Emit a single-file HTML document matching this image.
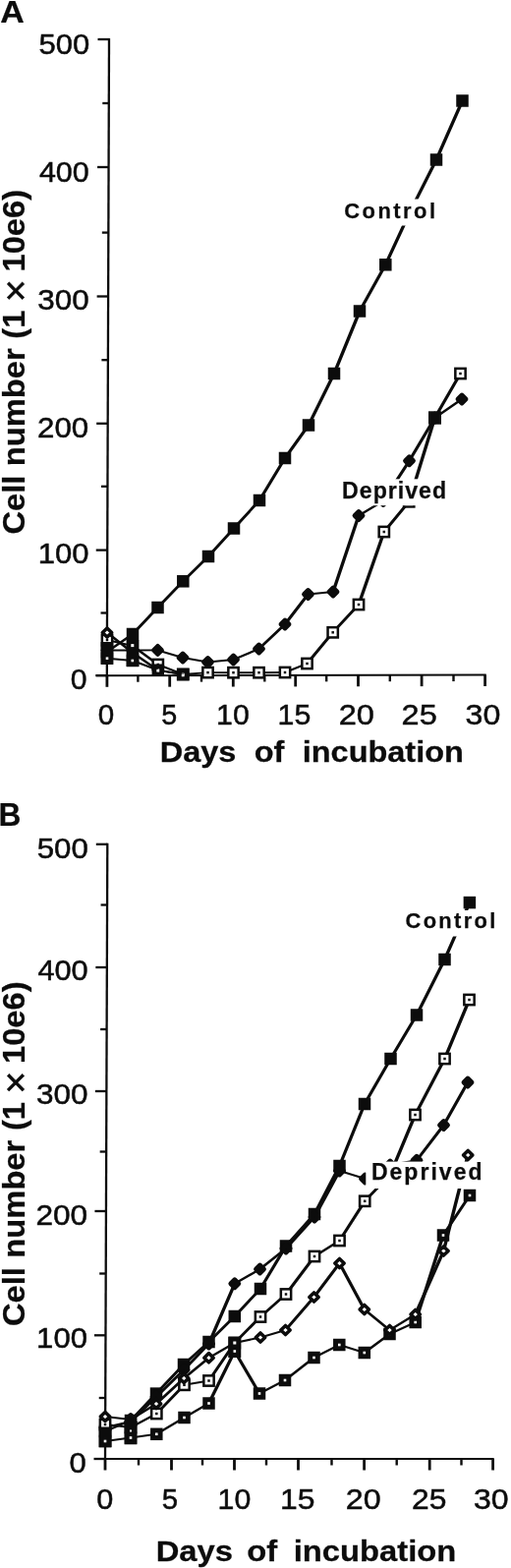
<!DOCTYPE html>
<html lang="en"><head><meta charset="utf-8"><title>Cell number vs days of incubation</title>
<style>html,body{margin:0;padding:0;background:#fff}svg{display:block}text{white-space:pre}</style></head>
<body><svg width="520" height="1595" viewBox="0 0 520 1595">
<rect width="520" height="1595" fill="#fff"/>
<line x1="111" y1="39" x2="108.8" y2="688.3" stroke="#0c0c0c" stroke-width="2.3"/><line x1="97.8" y1="687.3" x2="494.70000000000005" y2="686.5" stroke="#0c0c0c" stroke-width="2.1"/><line x1="99.50" y1="40" x2="111.00" y2="40" stroke="#0c0c0c" stroke-width="2.3"/><line x1="104.28" y1="105" x2="110.78" y2="105" stroke="#0c0c0c" stroke-width="2.3"/><line x1="99.06" y1="170" x2="110.56" y2="170" stroke="#0c0c0c" stroke-width="2.3"/><line x1="103.83" y1="236.6" x2="110.33" y2="236.6" stroke="#0c0c0c" stroke-width="2.3"/><line x1="98.61" y1="301.5" x2="110.11" y2="301.5" stroke="#0c0c0c" stroke-width="2.3"/><line x1="103.39" y1="366.2" x2="109.89" y2="366.2" stroke="#0c0c0c" stroke-width="2.3"/><line x1="98.17" y1="430.8" x2="109.67" y2="430.8" stroke="#0c0c0c" stroke-width="2.3"/><line x1="102.95" y1="494.8" x2="109.45" y2="494.8" stroke="#0c0c0c" stroke-width="2.3"/><line x1="97.73" y1="559.6" x2="109.23" y2="559.6" stroke="#0c0c0c" stroke-width="2.3"/><line x1="102.52" y1="623.5" x2="109.02" y2="623.5" stroke="#0c0c0c" stroke-width="2.3"/><line x1="97.30" y1="687.1" x2="108.80" y2="687.1" stroke="#0c0c0c" stroke-width="2.3"/><line x1="108.9" y1="687.30" x2="108.9" y2="698.80" stroke="#0c0c0c" stroke-width="2.8"/><line x1="140.4" y1="687.23" x2="140.4" y2="693.73" stroke="#0c0c0c" stroke-width="2.4"/><line x1="172.7" y1="687.17" x2="172.7" y2="698.67" stroke="#0c0c0c" stroke-width="2.8"/><line x1="205" y1="687.10" x2="205" y2="693.60" stroke="#0c0c0c" stroke-width="2.4"/><line x1="237.3" y1="687.03" x2="237.3" y2="698.53" stroke="#0c0c0c" stroke-width="2.8"/><line x1="269.3" y1="686.97" x2="269.3" y2="693.47" stroke="#0c0c0c" stroke-width="2.4"/><line x1="300.7" y1="686.90" x2="300.7" y2="698.40" stroke="#0c0c0c" stroke-width="2.8"/><line x1="332.2" y1="686.84" x2="332.2" y2="693.34" stroke="#0c0c0c" stroke-width="2.4"/><line x1="364.5" y1="686.77" x2="364.5" y2="698.27" stroke="#0c0c0c" stroke-width="2.8"/><line x1="396.8" y1="686.70" x2="396.8" y2="693.20" stroke="#0c0c0c" stroke-width="2.4"/><line x1="429.1" y1="686.63" x2="429.1" y2="698.13" stroke="#0c0c0c" stroke-width="2.8"/><line x1="461.5" y1="686.57" x2="461.5" y2="693.07" stroke="#0c0c0c" stroke-width="2.4"/><line x1="493.6" y1="686.50" x2="493.6" y2="698.00" stroke="#0c0c0c" stroke-width="2.8"/>
<line x1="109.3" y1="857.8" x2="107" y2="1485" stroke="#0c0c0c" stroke-width="2.3"/><line x1="96" y1="1484" x2="502.70000000000005" y2="1484.0" stroke="#0c0c0c" stroke-width="2.1"/><line x1="97.80" y1="858.8" x2="109.30" y2="858.8" stroke="#0c0c0c" stroke-width="2.3"/><line x1="102.57" y1="920.5" x2="109.07" y2="920.5" stroke="#0c0c0c" stroke-width="2.3"/><line x1="97.34" y1="984" x2="108.84" y2="984" stroke="#0c0c0c" stroke-width="2.3"/><line x1="102.11" y1="1047" x2="108.61" y2="1047" stroke="#0c0c0c" stroke-width="2.3"/><line x1="96.88" y1="1110" x2="108.38" y2="1110" stroke="#0c0c0c" stroke-width="2.3"/><line x1="101.65" y1="1171.5" x2="108.15" y2="1171.5" stroke="#0c0c0c" stroke-width="2.3"/><line x1="96.43" y1="1232" x2="107.93" y2="1232" stroke="#0c0c0c" stroke-width="2.3"/><line x1="101.19" y1="1295.5" x2="107.69" y2="1295.5" stroke="#0c0c0c" stroke-width="2.3"/><line x1="95.96" y1="1358.3" x2="107.46" y2="1358.3" stroke="#0c0c0c" stroke-width="2.3"/><line x1="100.73" y1="1422" x2="107.23" y2="1422" stroke="#0c0c0c" stroke-width="2.3"/><line x1="95.50" y1="1484" x2="107.00" y2="1484" stroke="#0c0c0c" stroke-width="2.3"/><line x1="107" y1="1484.00" x2="107" y2="1495.50" stroke="#0c0c0c" stroke-width="2.8"/><line x1="141" y1="1484.00" x2="141" y2="1490.50" stroke="#0c0c0c" stroke-width="2.4"/><line x1="174.5" y1="1484.00" x2="174.5" y2="1495.50" stroke="#0c0c0c" stroke-width="2.8"/><line x1="206" y1="1484.00" x2="206" y2="1490.50" stroke="#0c0c0c" stroke-width="2.4"/><line x1="238.5" y1="1484.00" x2="238.5" y2="1495.50" stroke="#0c0c0c" stroke-width="2.8"/><line x1="271" y1="1484.00" x2="271" y2="1490.50" stroke="#0c0c0c" stroke-width="2.4"/><line x1="303.5" y1="1484.00" x2="303.5" y2="1495.50" stroke="#0c0c0c" stroke-width="2.8"/><line x1="337.5" y1="1484.00" x2="337.5" y2="1490.50" stroke="#0c0c0c" stroke-width="2.4"/><line x1="370.6" y1="1484.00" x2="370.6" y2="1495.50" stroke="#0c0c0c" stroke-width="2.8"/><line x1="403.7" y1="1484.00" x2="403.7" y2="1490.50" stroke="#0c0c0c" stroke-width="2.4"/><line x1="437.2" y1="1484.00" x2="437.2" y2="1495.50" stroke="#0c0c0c" stroke-width="2.8"/><line x1="469.5" y1="1484.00" x2="469.5" y2="1490.50" stroke="#0c0c0c" stroke-width="2.4"/><line x1="501.6" y1="1484.00" x2="501.6" y2="1495.50" stroke="#0c0c0c" stroke-width="2.8"/>
<line x1="109.0" y1="651.0" x2="135.0" y2="657.0" stroke="#0c0c0c" stroke-width="2.01" stroke-linecap="round"/><line x1="135.0" y1="657.0" x2="160.8" y2="676.0" stroke="#0c0c0c" stroke-width="2.58" stroke-linecap="round"/><line x1="160.8" y1="676.0" x2="186.3" y2="686.0" stroke="#0c0c0c" stroke-width="2.18" stroke-linecap="round"/><line x1="186.3" y1="686.0" x2="211.5" y2="684.1" stroke="#0c0c0c" stroke-width="1.91" stroke-linecap="round"/><line x1="211.5" y1="684.1" x2="237.5" y2="684.2" stroke="#0c0c0c" stroke-width="1.90" stroke-linecap="round"/><line x1="237.5" y1="684.2" x2="263.5" y2="684.2" stroke="#0c0c0c" stroke-width="1.90" stroke-linecap="round"/><line x1="263.5" y1="684.2" x2="290.0" y2="684.0" stroke="#0c0c0c" stroke-width="1.90" stroke-linecap="round"/><line x1="290.0" y1="684.0" x2="312.5" y2="675.0" stroke="#0c0c0c" stroke-width="2.19" stroke-linecap="round"/><line x1="312.5" y1="675.0" x2="338.7" y2="643.3" stroke="#0c0c0c" stroke-width="2.96" stroke-linecap="round"/><line x1="338.7" y1="643.3" x2="365.0" y2="615.0" stroke="#0c0c0c" stroke-width="2.87" stroke-linecap="round"/><line x1="365.0" y1="615.0" x2="390.8" y2="541.0" stroke="#0c0c0c" stroke-width="3.36" stroke-linecap="round"/><line x1="390.8" y1="541.0" x2="416.2" y2="510.3" stroke="#0c0c0c" stroke-width="2.96" stroke-linecap="round"/><line x1="416.2" y1="510.3" x2="442.5" y2="425.0" stroke="#0c0c0c" stroke-width="3.39" stroke-linecap="round"/><line x1="442.5" y1="425.0" x2="468.5" y2="380.0" stroke="#0c0c0c" stroke-width="3.18" stroke-linecap="round"/><rect x="103.85" y="645.85" width="10.3" height="10.3" fill="#fff" stroke="#0c0c0c" stroke-width="2.5"/><rect x="107.75" y="649.75" width="2.5" height="2.5" fill="#0c0c0c"/><rect x="155.65" y="670.85" width="10.3" height="10.3" fill="#fff" stroke="#0c0c0c" stroke-width="2.5"/><rect x="159.55" y="674.75" width="2.5" height="2.5" fill="#0c0c0c"/><rect x="181.15" y="680.85" width="10.3" height="10.3" fill="#fff" stroke="#0c0c0c" stroke-width="2.5"/><rect x="185.05" y="684.75" width="2.5" height="2.5" fill="#0c0c0c"/><rect x="206.35" y="678.95" width="10.3" height="10.3" fill="#fff" stroke="#0c0c0c" stroke-width="2.5"/><rect x="210.25" y="682.85" width="2.5" height="2.5" fill="#0c0c0c"/><rect x="232.35" y="679.05" width="10.3" height="10.3" fill="#fff" stroke="#0c0c0c" stroke-width="2.5"/><rect x="236.25" y="682.95" width="2.5" height="2.5" fill="#0c0c0c"/><rect x="258.35" y="679.05" width="10.3" height="10.3" fill="#fff" stroke="#0c0c0c" stroke-width="2.5"/><rect x="262.25" y="682.95" width="2.5" height="2.5" fill="#0c0c0c"/><rect x="284.85" y="678.85" width="10.3" height="10.3" fill="#fff" stroke="#0c0c0c" stroke-width="2.5"/><rect x="288.75" y="682.75" width="2.5" height="2.5" fill="#0c0c0c"/><rect x="307.35" y="669.85" width="10.3" height="10.3" fill="#fff" stroke="#0c0c0c" stroke-width="2.5"/><rect x="311.25" y="673.75" width="2.5" height="2.5" fill="#0c0c0c"/><rect x="333.55" y="638.15" width="10.3" height="10.3" fill="#fff" stroke="#0c0c0c" stroke-width="2.5"/><rect x="337.45" y="642.05" width="2.5" height="2.5" fill="#0c0c0c"/><rect x="359.85" y="609.85" width="10.3" height="10.3" fill="#fff" stroke="#0c0c0c" stroke-width="2.5"/><rect x="363.75" y="613.75" width="2.5" height="2.5" fill="#0c0c0c"/><rect x="385.65" y="535.85" width="10.3" height="10.3" fill="#fff" stroke="#0c0c0c" stroke-width="2.5"/><rect x="389.55" y="539.75" width="2.5" height="2.5" fill="#0c0c0c"/><rect x="411.05" y="505.15" width="10.3" height="10.3" fill="#fff" stroke="#0c0c0c" stroke-width="2.5"/><rect x="414.95" y="509.05" width="2.5" height="2.5" fill="#0c0c0c"/><rect x="437.35" y="419.85" width="10.3" height="10.3" fill="#fff" stroke="#0c0c0c" stroke-width="2.5"/><rect x="441.25" y="423.75" width="2.5" height="2.5" fill="#0c0c0c"/><rect x="463.35" y="374.85" width="10.3" height="10.3" fill="#fff" stroke="#0c0c0c" stroke-width="2.5"/><rect x="467.25" y="378.75" width="2.5" height="2.5" fill="#0c0c0c"/>
<line x1="109.0" y1="663.0" x2="135.0" y2="645.0" stroke="#0c0c0c" stroke-width="2.53" stroke-linecap="round"/><line x1="135.0" y1="645.0" x2="160.5" y2="618.0" stroke="#0c0c0c" stroke-width="2.86" stroke-linecap="round"/><line x1="160.5" y1="618.0" x2="186.3" y2="591.3" stroke="#0c0c0c" stroke-width="2.84" stroke-linecap="round"/><line x1="186.3" y1="591.3" x2="212.0" y2="566.0" stroke="#0c0c0c" stroke-width="2.80" stroke-linecap="round"/><line x1="212.0" y1="566.0" x2="238.0" y2="537.5" stroke="#0c0c0c" stroke-width="2.89" stroke-linecap="round"/><line x1="238.0" y1="537.5" x2="264.0" y2="509.0" stroke="#0c0c0c" stroke-width="2.89" stroke-linecap="round"/><line x1="264.0" y1="509.0" x2="290.0" y2="466.0" stroke="#0c0c0c" stroke-width="3.15" stroke-linecap="round"/><line x1="290.0" y1="466.0" x2="314.0" y2="432.5" stroke="#0c0c0c" stroke-width="3.05" stroke-linecap="round"/><line x1="314.0" y1="432.5" x2="340.0" y2="380.0" stroke="#0c0c0c" stroke-width="3.25" stroke-linecap="round"/><line x1="340.0" y1="380.0" x2="366.0" y2="316.5" stroke="#0c0c0c" stroke-width="3.32" stroke-linecap="round"/><line x1="366.0" y1="316.5" x2="392.3" y2="269.3" stroke="#0c0c0c" stroke-width="3.19" stroke-linecap="round"/><line x1="392.3" y1="269.3" x2="417.0" y2="216.0" stroke="#0c0c0c" stroke-width="3.27" stroke-linecap="round"/><line x1="417.0" y1="216.0" x2="444.0" y2="162.5" stroke="#0c0c0c" stroke-width="3.24" stroke-linecap="round"/><line x1="444.0" y1="162.5" x2="470.5" y2="102.5" stroke="#0c0c0c" stroke-width="3.29" stroke-linecap="round"/><rect x="102.75" y="656.75" width="12.5" height="12.5" fill="#0c0c0c"/><rect x="128.75" y="638.75" width="12.5" height="12.5" fill="#0c0c0c"/><rect x="154.25" y="611.75" width="12.5" height="12.5" fill="#0c0c0c"/><rect x="180.05" y="585.05" width="12.5" height="12.5" fill="#0c0c0c"/><rect x="205.75" y="559.75" width="12.5" height="12.5" fill="#0c0c0c"/><rect x="231.75" y="531.25" width="12.5" height="12.5" fill="#0c0c0c"/><rect x="257.75" y="502.75" width="12.5" height="12.5" fill="#0c0c0c"/><rect x="283.75" y="459.75" width="12.5" height="12.5" fill="#0c0c0c"/><rect x="307.75" y="426.25" width="12.5" height="12.5" fill="#0c0c0c"/><rect x="333.75" y="373.75" width="12.5" height="12.5" fill="#0c0c0c"/><rect x="359.75" y="310.25" width="12.5" height="12.5" fill="#0c0c0c"/><rect x="386.05" y="263.05" width="12.5" height="12.5" fill="#0c0c0c"/><rect x="410.75" y="209.75" width="12.5" height="12.5" fill="#0c0c0c"/><rect x="437.75" y="156.25" width="12.5" height="12.5" fill="#0c0c0c"/><rect x="464.25" y="96.25" width="12.5" height="12.5" fill="#0c0c0c"/>
<line x1="109.0" y1="661.5" x2="135.0" y2="661.5" stroke="#0c0c0c" stroke-width="1.90" stroke-linecap="round"/><line x1="135.0" y1="661.5" x2="160.5" y2="661.4" stroke="#0c0c0c" stroke-width="1.90" stroke-linecap="round"/><line x1="160.5" y1="661.4" x2="186.0" y2="669.0" stroke="#0c0c0c" stroke-width="2.08" stroke-linecap="round"/><line x1="186.0" y1="669.0" x2="211.5" y2="673.5" stroke="#0c0c0c" stroke-width="1.97" stroke-linecap="round"/><line x1="211.5" y1="673.5" x2="237.5" y2="671.0" stroke="#0c0c0c" stroke-width="1.92" stroke-linecap="round"/><line x1="237.5" y1="671.0" x2="263.5" y2="660.0" stroke="#0c0c0c" stroke-width="2.22" stroke-linecap="round"/><line x1="263.5" y1="660.0" x2="290.0" y2="635.0" stroke="#0c0c0c" stroke-width="2.77" stroke-linecap="round"/><line x1="290.0" y1="635.0" x2="313.5" y2="604.5" stroke="#0c0c0c" stroke-width="3.01" stroke-linecap="round"/><line x1="313.5" y1="604.5" x2="339.0" y2="602.0" stroke="#0c0c0c" stroke-width="1.92" stroke-linecap="round"/><line x1="339.0" y1="602.0" x2="365.0" y2="524.5" stroke="#0c0c0c" stroke-width="3.37" stroke-linecap="round"/><line x1="365.0" y1="524.5" x2="390.0" y2="509.5" stroke="#0c0c0c" stroke-width="2.43" stroke-linecap="round"/><line x1="390.0" y1="509.5" x2="416.5" y2="468.8" stroke="#0c0c0c" stroke-width="3.11" stroke-linecap="round"/><line x1="416.5" y1="468.8" x2="442.5" y2="425.0" stroke="#0c0c0c" stroke-width="3.16" stroke-linecap="round"/><line x1="442.5" y1="425.0" x2="470.0" y2="406.0" stroke="#0c0c0c" stroke-width="2.53" stroke-linecap="round"/><polygon points="109.00,657.50 113.00,661.50 109.00,665.50 105.00,661.50" fill="#0c0c0c" stroke="#0c0c0c" stroke-width="4.8" stroke-linejoin="round"/><polygon points="135.00,657.50 139.00,661.50 135.00,665.50 131.00,661.50" fill="#0c0c0c" stroke="#0c0c0c" stroke-width="4.8" stroke-linejoin="round"/><polygon points="160.50,657.40 164.50,661.40 160.50,665.40 156.50,661.40" fill="#0c0c0c" stroke="#0c0c0c" stroke-width="4.8" stroke-linejoin="round"/><polygon points="186.00,665.00 190.00,669.00 186.00,673.00 182.00,669.00" fill="#0c0c0c" stroke="#0c0c0c" stroke-width="4.8" stroke-linejoin="round"/><polygon points="211.50,669.50 215.50,673.50 211.50,677.50 207.50,673.50" fill="#0c0c0c" stroke="#0c0c0c" stroke-width="4.8" stroke-linejoin="round"/><polygon points="237.50,667.00 241.50,671.00 237.50,675.00 233.50,671.00" fill="#0c0c0c" stroke="#0c0c0c" stroke-width="4.8" stroke-linejoin="round"/><polygon points="263.50,656.00 267.50,660.00 263.50,664.00 259.50,660.00" fill="#0c0c0c" stroke="#0c0c0c" stroke-width="4.8" stroke-linejoin="round"/><polygon points="290.00,631.00 294.00,635.00 290.00,639.00 286.00,635.00" fill="#0c0c0c" stroke="#0c0c0c" stroke-width="4.8" stroke-linejoin="round"/><polygon points="313.50,600.50 317.50,604.50 313.50,608.50 309.50,604.50" fill="#0c0c0c" stroke="#0c0c0c" stroke-width="4.8" stroke-linejoin="round"/><polygon points="339.00,598.00 343.00,602.00 339.00,606.00 335.00,602.00" fill="#0c0c0c" stroke="#0c0c0c" stroke-width="4.8" stroke-linejoin="round"/><polygon points="365.00,520.50 369.00,524.50 365.00,528.50 361.00,524.50" fill="#0c0c0c" stroke="#0c0c0c" stroke-width="4.8" stroke-linejoin="round"/><polygon points="390.00,505.50 394.00,509.50 390.00,513.50 386.00,509.50" fill="#0c0c0c" stroke="#0c0c0c" stroke-width="4.8" stroke-linejoin="round"/><polygon points="416.50,464.80 420.50,468.80 416.50,472.80 412.50,468.80" fill="#0c0c0c" stroke="#0c0c0c" stroke-width="4.8" stroke-linejoin="round"/><polygon points="442.50,421.00 446.50,425.00 442.50,429.00 438.50,425.00" fill="#0c0c0c" stroke="#0c0c0c" stroke-width="4.8" stroke-linejoin="round"/><polygon points="470.00,402.00 474.00,406.00 470.00,410.00 466.00,406.00" fill="#0c0c0c" stroke="#0c0c0c" stroke-width="4.8" stroke-linejoin="round"/>
<line x1="109.0" y1="669.7" x2="135.0" y2="672.0" stroke="#0c0c0c" stroke-width="1.92" stroke-linecap="round"/><line x1="135.0" y1="672.0" x2="160.8" y2="681.7" stroke="#0c0c0c" stroke-width="2.16" stroke-linecap="round"/><line x1="160.8" y1="681.7" x2="186.2" y2="686.0" stroke="#0c0c0c" stroke-width="1.96" stroke-linecap="round"/><rect x="102.75" y="663.45" width="12.5" height="12.5" fill="#0c0c0c"/><rect x="107.70" y="668.40" width="2.6" height="2.6" fill="#fff"/><rect x="128.75" y="665.75" width="12.5" height="12.5" fill="#0c0c0c"/><rect x="133.70" y="670.70" width="2.6" height="2.6" fill="#fff"/><rect x="154.55" y="675.45" width="12.5" height="12.5" fill="#0c0c0c"/><rect x="159.50" y="680.40" width="2.6" height="2.6" fill="#fff"/><rect x="179.95" y="679.75" width="12.5" height="12.5" fill="#0c0c0c"/><rect x="184.90" y="684.70" width="2.6" height="2.6" fill="#fff"/>
<line x1="109.0" y1="643.5" x2="135.0" y2="664.0" stroke="#0c0c0c" stroke-width="2.63" stroke-linecap="round"/><line x1="135.0" y1="664.0" x2="160.8" y2="681.7" stroke="#0c0c0c" stroke-width="2.52" stroke-linecap="round"/><line x1="160.8" y1="681.7" x2="186.2" y2="686.0" stroke="#0c0c0c" stroke-width="1.96" stroke-linecap="round"/><polygon points="109.00,638.90 113.70,643.50 109.00,648.10 104.30,643.50" fill="#fff" stroke="#0c0c0c" stroke-width="3.5" stroke-linejoin="round"/>
<rect x="102.6" y="653" width="12.60" height="22.80" fill="#0c0c0c"/><rect x="107.70" y="668.40" width="2.6" height="2.6" fill="#fff"/>
<rect x="436.00" y="418.50" width="13" height="13" fill="#0c0c0c"/>
<rect x="128.6" y="651" width="12.80" height="27.00" fill="#0c0c0c"/><rect x="133.30" y="655.10" width="3" height="3" fill="#fff"/><rect x="133.50" y="670.70" width="2.6" height="2.6" fill="#fff"/>
<rect x="159.40" y="680.80" width="2.8" height="2.8" fill="#fff"/><rect x="184.80" y="685.50" width="2.8" height="2.8" fill="#fff"/>
<line x1="107.0" y1="1456.0" x2="133.0" y2="1445.0" stroke="#0c0c0c" stroke-width="2.22" stroke-linecap="round"/><line x1="133.0" y1="1445.0" x2="159.0" y2="1417.6" stroke="#0c0c0c" stroke-width="2.86" stroke-linecap="round"/><line x1="159.0" y1="1417.6" x2="187.0" y2="1388.0" stroke="#0c0c0c" stroke-width="2.86" stroke-linecap="round"/><line x1="187.0" y1="1388.0" x2="212.5" y2="1365.0" stroke="#0c0c0c" stroke-width="2.74" stroke-linecap="round"/><line x1="212.5" y1="1365.0" x2="238.8" y2="1339.0" stroke="#0c0c0c" stroke-width="2.81" stroke-linecap="round"/><line x1="238.8" y1="1339.0" x2="265.0" y2="1311.0" stroke="#0c0c0c" stroke-width="2.87" stroke-linecap="round"/><line x1="265.0" y1="1311.0" x2="291.0" y2="1267.5" stroke="#0c0c0c" stroke-width="3.16" stroke-linecap="round"/><line x1="291.0" y1="1267.5" x2="320.0" y2="1235.0" stroke="#0c0c0c" stroke-width="2.90" stroke-linecap="round"/><line x1="320.0" y1="1235.0" x2="345.5" y2="1186.0" stroke="#0c0c0c" stroke-width="3.23" stroke-linecap="round"/><line x1="345.5" y1="1186.0" x2="371.0" y2="1123.0" stroke="#0c0c0c" stroke-width="3.32" stroke-linecap="round"/><line x1="371.0" y1="1123.0" x2="397.5" y2="1077.0" stroke="#0c0c0c" stroke-width="3.18" stroke-linecap="round"/><line x1="397.5" y1="1077.0" x2="424.0" y2="1032.5" stroke="#0c0c0c" stroke-width="3.16" stroke-linecap="round"/><line x1="424.0" y1="1032.5" x2="452.5" y2="976.0" stroke="#0c0c0c" stroke-width="3.24" stroke-linecap="round"/><line x1="452.5" y1="976.0" x2="477.9" y2="918.1" stroke="#0c0c0c" stroke-width="3.29" stroke-linecap="round"/><rect x="100.75" y="1449.75" width="12.5" height="12.5" fill="#0c0c0c"/><rect x="126.75" y="1438.75" width="12.5" height="12.5" fill="#0c0c0c"/><rect x="152.75" y="1411.35" width="12.5" height="12.5" fill="#0c0c0c"/><rect x="180.75" y="1381.75" width="12.5" height="12.5" fill="#0c0c0c"/><rect x="206.25" y="1358.75" width="12.5" height="12.5" fill="#0c0c0c"/><rect x="232.55" y="1332.75" width="12.5" height="12.5" fill="#0c0c0c"/><rect x="258.75" y="1304.75" width="12.5" height="12.5" fill="#0c0c0c"/><rect x="284.75" y="1261.25" width="12.5" height="12.5" fill="#0c0c0c"/><rect x="313.75" y="1228.75" width="12.5" height="12.5" fill="#0c0c0c"/><rect x="339.25" y="1179.75" width="12.5" height="12.5" fill="#0c0c0c"/><rect x="364.75" y="1116.75" width="12.5" height="12.5" fill="#0c0c0c"/><rect x="391.25" y="1070.75" width="12.5" height="12.5" fill="#0c0c0c"/><rect x="417.75" y="1026.25" width="12.5" height="12.5" fill="#0c0c0c"/><rect x="446.25" y="969.75" width="12.5" height="12.5" fill="#0c0c0c"/><rect x="471.65" y="911.85" width="12.5" height="12.5" fill="#0c0c0c"/>
<line x1="107.0" y1="1452.0" x2="133.0" y2="1446.0" stroke="#0c0c0c" stroke-width="2.01" stroke-linecap="round"/><line x1="133.0" y1="1446.0" x2="159.0" y2="1421.0" stroke="#0c0c0c" stroke-width="2.79" stroke-linecap="round"/><line x1="159.0" y1="1421.0" x2="187.0" y2="1393.5" stroke="#0c0c0c" stroke-width="2.80" stroke-linecap="round"/><line x1="187.0" y1="1393.5" x2="212.5" y2="1367.0" stroke="#0c0c0c" stroke-width="2.85" stroke-linecap="round"/><line x1="212.5" y1="1367.0" x2="238.8" y2="1305.8" stroke="#0c0c0c" stroke-width="3.30" stroke-linecap="round"/><line x1="238.8" y1="1305.8" x2="264.5" y2="1291.0" stroke="#0c0c0c" stroke-width="2.40" stroke-linecap="round"/><line x1="264.5" y1="1291.0" x2="291.0" y2="1270.0" stroke="#0c0c0c" stroke-width="2.63" stroke-linecap="round"/><line x1="291.0" y1="1270.0" x2="320.0" y2="1238.0" stroke="#0c0c0c" stroke-width="2.89" stroke-linecap="round"/><line x1="320.0" y1="1238.0" x2="345.5" y2="1191.0" stroke="#0c0c0c" stroke-width="3.21" stroke-linecap="round"/><line x1="345.5" y1="1191.0" x2="371.5" y2="1199.0" stroke="#0c0c0c" stroke-width="2.09" stroke-linecap="round"/><line x1="371.5" y1="1199.0" x2="397.0" y2="1185.0" stroke="#0c0c0c" stroke-width="2.37" stroke-linecap="round"/><line x1="397.0" y1="1185.0" x2="424.0" y2="1180.3" stroke="#0c0c0c" stroke-width="1.97" stroke-linecap="round"/><line x1="424.0" y1="1180.3" x2="451.5" y2="1144.5" stroke="#0c0c0c" stroke-width="3.01" stroke-linecap="round"/><line x1="451.5" y1="1144.5" x2="476.0" y2="1101.0" stroke="#0c0c0c" stroke-width="3.19" stroke-linecap="round"/><polygon points="107.00,1448.00 111.00,1452.00 107.00,1456.00 103.00,1452.00" fill="#0c0c0c" stroke="#0c0c0c" stroke-width="4.8" stroke-linejoin="round"/><polygon points="133.00,1442.00 137.00,1446.00 133.00,1450.00 129.00,1446.00" fill="#0c0c0c" stroke="#0c0c0c" stroke-width="4.8" stroke-linejoin="round"/><polygon points="159.00,1417.00 163.00,1421.00 159.00,1425.00 155.00,1421.00" fill="#0c0c0c" stroke="#0c0c0c" stroke-width="4.8" stroke-linejoin="round"/><polygon points="187.00,1389.50 191.00,1393.50 187.00,1397.50 183.00,1393.50" fill="#0c0c0c" stroke="#0c0c0c" stroke-width="4.8" stroke-linejoin="round"/><polygon points="212.50,1363.00 216.50,1367.00 212.50,1371.00 208.50,1367.00" fill="#0c0c0c" stroke="#0c0c0c" stroke-width="4.8" stroke-linejoin="round"/><polygon points="238.80,1301.80 242.80,1305.80 238.80,1309.80 234.80,1305.80" fill="#0c0c0c" stroke="#0c0c0c" stroke-width="4.8" stroke-linejoin="round"/><polygon points="264.50,1287.00 268.50,1291.00 264.50,1295.00 260.50,1291.00" fill="#0c0c0c" stroke="#0c0c0c" stroke-width="4.8" stroke-linejoin="round"/><polygon points="291.00,1266.00 295.00,1270.00 291.00,1274.00 287.00,1270.00" fill="#0c0c0c" stroke="#0c0c0c" stroke-width="4.8" stroke-linejoin="round"/><polygon points="320.00,1234.00 324.00,1238.00 320.00,1242.00 316.00,1238.00" fill="#0c0c0c" stroke="#0c0c0c" stroke-width="4.8" stroke-linejoin="round"/><polygon points="345.50,1187.00 349.50,1191.00 345.50,1195.00 341.50,1191.00" fill="#0c0c0c" stroke="#0c0c0c" stroke-width="4.8" stroke-linejoin="round"/><polygon points="371.50,1195.00 375.50,1199.00 371.50,1203.00 367.50,1199.00" fill="#0c0c0c" stroke="#0c0c0c" stroke-width="4.8" stroke-linejoin="round"/><polygon points="397.00,1181.00 401.00,1185.00 397.00,1189.00 393.00,1185.00" fill="#0c0c0c" stroke="#0c0c0c" stroke-width="4.8" stroke-linejoin="round"/><polygon points="424.00,1176.30 428.00,1180.30 424.00,1184.30 420.00,1180.30" fill="#0c0c0c" stroke="#0c0c0c" stroke-width="4.8" stroke-linejoin="round"/><polygon points="451.50,1140.50 455.50,1144.50 451.50,1148.50 447.50,1144.50" fill="#0c0c0c" stroke="#0c0c0c" stroke-width="4.8" stroke-linejoin="round"/><polygon points="476.00,1097.00 480.00,1101.00 476.00,1105.00 472.00,1101.00" fill="#0c0c0c" stroke="#0c0c0c" stroke-width="4.8" stroke-linejoin="round"/>
<line x1="107.0" y1="1466.0" x2="133.0" y2="1462.5" stroke="#0c0c0c" stroke-width="1.94" stroke-linecap="round"/><line x1="133.0" y1="1462.5" x2="159.3" y2="1458.8" stroke="#0c0c0c" stroke-width="1.94" stroke-linecap="round"/><line x1="159.3" y1="1458.8" x2="187.5" y2="1442.0" stroke="#0c0c0c" stroke-width="2.42" stroke-linecap="round"/><line x1="187.5" y1="1442.0" x2="212.5" y2="1427.5" stroke="#0c0c0c" stroke-width="2.41" stroke-linecap="round"/><line x1="212.5" y1="1427.5" x2="238.8" y2="1374.5" stroke="#0c0c0c" stroke-width="3.25" stroke-linecap="round"/><line x1="238.8" y1="1374.5" x2="264.0" y2="1417.5" stroke="#0c0c0c" stroke-width="3.17" stroke-linecap="round"/><line x1="264.0" y1="1417.5" x2="290.0" y2="1404.0" stroke="#0c0c0c" stroke-width="2.33" stroke-linecap="round"/><line x1="290.0" y1="1404.0" x2="319.5" y2="1381.0" stroke="#0c0c0c" stroke-width="2.62" stroke-linecap="round"/><line x1="319.5" y1="1381.0" x2="345.3" y2="1368.0" stroke="#0c0c0c" stroke-width="2.32" stroke-linecap="round"/><line x1="345.3" y1="1368.0" x2="370.8" y2="1376.0" stroke="#0c0c0c" stroke-width="2.09" stroke-linecap="round"/><line x1="370.8" y1="1376.0" x2="396.5" y2="1357.0" stroke="#0c0c0c" stroke-width="2.58" stroke-linecap="round"/><line x1="396.5" y1="1357.0" x2="422.7" y2="1345.0" stroke="#0c0c0c" stroke-width="2.26" stroke-linecap="round"/><line x1="422.7" y1="1345.0" x2="451.0" y2="1256.5" stroke="#0c0c0c" stroke-width="3.38" stroke-linecap="round"/><line x1="451.0" y1="1256.5" x2="478.0" y2="1216.0" stroke="#0c0c0c" stroke-width="3.10" stroke-linecap="round"/><rect x="100.75" y="1459.75" width="12.5" height="12.5" fill="#0c0c0c"/><rect x="105.70" y="1464.70" width="2.6" height="2.6" fill="#fff"/><rect x="126.75" y="1456.25" width="12.5" height="12.5" fill="#0c0c0c"/><rect x="131.70" y="1461.20" width="2.6" height="2.6" fill="#fff"/><rect x="153.05" y="1452.55" width="12.5" height="12.5" fill="#0c0c0c"/><rect x="158.00" y="1457.50" width="2.6" height="2.6" fill="#fff"/><rect x="181.25" y="1435.75" width="12.5" height="12.5" fill="#0c0c0c"/><rect x="186.20" y="1440.70" width="2.6" height="2.6" fill="#fff"/><rect x="206.25" y="1421.25" width="12.5" height="12.5" fill="#0c0c0c"/><rect x="211.20" y="1426.20" width="2.6" height="2.6" fill="#fff"/><rect x="232.55" y="1368.25" width="12.5" height="12.5" fill="#0c0c0c"/><rect x="237.50" y="1373.20" width="2.6" height="2.6" fill="#fff"/><rect x="257.75" y="1411.25" width="12.5" height="12.5" fill="#0c0c0c"/><rect x="262.70" y="1416.20" width="2.6" height="2.6" fill="#fff"/><rect x="283.75" y="1397.75" width="12.5" height="12.5" fill="#0c0c0c"/><rect x="288.70" y="1402.70" width="2.6" height="2.6" fill="#fff"/><rect x="313.25" y="1374.75" width="12.5" height="12.5" fill="#0c0c0c"/><rect x="318.20" y="1379.70" width="2.6" height="2.6" fill="#fff"/><rect x="339.05" y="1361.75" width="12.5" height="12.5" fill="#0c0c0c"/><rect x="344.00" y="1366.70" width="2.6" height="2.6" fill="#fff"/><rect x="364.55" y="1369.75" width="12.5" height="12.5" fill="#0c0c0c"/><rect x="369.50" y="1374.70" width="2.6" height="2.6" fill="#fff"/><rect x="390.25" y="1350.75" width="12.5" height="12.5" fill="#0c0c0c"/><rect x="395.20" y="1355.70" width="2.6" height="2.6" fill="#fff"/><rect x="416.45" y="1338.75" width="12.5" height="12.5" fill="#0c0c0c"/><rect x="421.40" y="1343.70" width="2.6" height="2.6" fill="#fff"/><rect x="444.75" y="1250.25" width="12.5" height="12.5" fill="#0c0c0c"/><rect x="449.70" y="1255.20" width="2.6" height="2.6" fill="#fff"/><rect x="471.75" y="1209.75" width="12.5" height="12.5" fill="#0c0c0c"/><rect x="476.70" y="1214.70" width="2.6" height="2.6" fill="#fff"/>
<line x1="107.0" y1="1449.0" x2="133.0" y2="1452.0" stroke="#0c0c0c" stroke-width="1.93" stroke-linecap="round"/><line x1="133.0" y1="1452.0" x2="159.3" y2="1438.0" stroke="#0c0c0c" stroke-width="2.35" stroke-linecap="round"/><line x1="159.3" y1="1438.0" x2="187.5" y2="1408.8" stroke="#0c0c0c" stroke-width="2.84" stroke-linecap="round"/><line x1="187.5" y1="1408.8" x2="212.5" y2="1404.5" stroke="#0c0c0c" stroke-width="1.96" stroke-linecap="round"/><line x1="212.5" y1="1404.5" x2="238.8" y2="1366.0" stroke="#0c0c0c" stroke-width="3.08" stroke-linecap="round"/><line x1="238.8" y1="1366.0" x2="265.0" y2="1339.5" stroke="#0c0c0c" stroke-width="2.82" stroke-linecap="round"/><line x1="265.0" y1="1339.5" x2="291.0" y2="1316.5" stroke="#0c0c0c" stroke-width="2.72" stroke-linecap="round"/><line x1="291.0" y1="1316.5" x2="320.0" y2="1278.0" stroke="#0c0c0c" stroke-width="3.02" stroke-linecap="round"/><line x1="320.0" y1="1278.0" x2="345.5" y2="1262.0" stroke="#0c0c0c" stroke-width="2.46" stroke-linecap="round"/><line x1="345.5" y1="1262.0" x2="371.2" y2="1221.8" stroke="#0c0c0c" stroke-width="3.12" stroke-linecap="round"/><line x1="371.2" y1="1221.8" x2="397.0" y2="1195.0" stroke="#0c0c0c" stroke-width="2.85" stroke-linecap="round"/><line x1="397.0" y1="1195.0" x2="422.5" y2="1134.0" stroke="#0c0c0c" stroke-width="3.31" stroke-linecap="round"/><line x1="422.5" y1="1134.0" x2="452.5" y2="1077.0" stroke="#0c0c0c" stroke-width="3.22" stroke-linecap="round"/><line x1="452.5" y1="1077.0" x2="477.5" y2="1017.0" stroke="#0c0c0c" stroke-width="3.31" stroke-linecap="round"/><rect x="101.85" y="1443.85" width="10.3" height="10.3" fill="#fff" stroke="#0c0c0c" stroke-width="2.5"/><rect x="105.75" y="1447.75" width="2.5" height="2.5" fill="#0c0c0c"/><rect x="127.85" y="1446.85" width="10.3" height="10.3" fill="#fff" stroke="#0c0c0c" stroke-width="2.5"/><rect x="131.75" y="1450.75" width="2.5" height="2.5" fill="#0c0c0c"/><rect x="154.15" y="1432.85" width="10.3" height="10.3" fill="#fff" stroke="#0c0c0c" stroke-width="2.5"/><rect x="158.05" y="1436.75" width="2.5" height="2.5" fill="#0c0c0c"/><rect x="182.35" y="1403.65" width="10.3" height="10.3" fill="#fff" stroke="#0c0c0c" stroke-width="2.5"/><rect x="186.25" y="1407.55" width="2.5" height="2.5" fill="#0c0c0c"/><rect x="207.35" y="1399.35" width="10.3" height="10.3" fill="#fff" stroke="#0c0c0c" stroke-width="2.5"/><rect x="211.25" y="1403.25" width="2.5" height="2.5" fill="#0c0c0c"/><rect x="233.65" y="1360.85" width="10.3" height="10.3" fill="#fff" stroke="#0c0c0c" stroke-width="2.5"/><rect x="237.55" y="1364.75" width="2.5" height="2.5" fill="#0c0c0c"/><rect x="259.85" y="1334.35" width="10.3" height="10.3" fill="#fff" stroke="#0c0c0c" stroke-width="2.5"/><rect x="263.75" y="1338.25" width="2.5" height="2.5" fill="#0c0c0c"/><rect x="285.85" y="1311.35" width="10.3" height="10.3" fill="#fff" stroke="#0c0c0c" stroke-width="2.5"/><rect x="289.75" y="1315.25" width="2.5" height="2.5" fill="#0c0c0c"/><rect x="314.85" y="1272.85" width="10.3" height="10.3" fill="#fff" stroke="#0c0c0c" stroke-width="2.5"/><rect x="318.75" y="1276.75" width="2.5" height="2.5" fill="#0c0c0c"/><rect x="340.35" y="1256.85" width="10.3" height="10.3" fill="#fff" stroke="#0c0c0c" stroke-width="2.5"/><rect x="344.25" y="1260.75" width="2.5" height="2.5" fill="#0c0c0c"/><rect x="366.05" y="1216.65" width="10.3" height="10.3" fill="#fff" stroke="#0c0c0c" stroke-width="2.5"/><rect x="369.95" y="1220.55" width="2.5" height="2.5" fill="#0c0c0c"/><rect x="391.85" y="1189.85" width="10.3" height="10.3" fill="#fff" stroke="#0c0c0c" stroke-width="2.5"/><rect x="395.75" y="1193.75" width="2.5" height="2.5" fill="#0c0c0c"/><rect x="417.35" y="1128.85" width="10.3" height="10.3" fill="#fff" stroke="#0c0c0c" stroke-width="2.5"/><rect x="421.25" y="1132.75" width="2.5" height="2.5" fill="#0c0c0c"/><rect x="447.35" y="1071.85" width="10.3" height="10.3" fill="#fff" stroke="#0c0c0c" stroke-width="2.5"/><rect x="451.25" y="1075.75" width="2.5" height="2.5" fill="#0c0c0c"/><rect x="472.35" y="1011.85" width="10.3" height="10.3" fill="#fff" stroke="#0c0c0c" stroke-width="2.5"/><rect x="476.25" y="1015.75" width="2.5" height="2.5" fill="#0c0c0c"/>
<line x1="107.0" y1="1441.0" x2="133.0" y2="1444.0" stroke="#0c0c0c" stroke-width="1.93" stroke-linecap="round"/><line x1="133.0" y1="1444.0" x2="159.0" y2="1428.0" stroke="#0c0c0c" stroke-width="2.45" stroke-linecap="round"/><line x1="159.0" y1="1428.0" x2="187.2" y2="1402.0" stroke="#0c0c0c" stroke-width="2.75" stroke-linecap="round"/><line x1="187.2" y1="1402.0" x2="212.5" y2="1381.2" stroke="#0c0c0c" stroke-width="2.66" stroke-linecap="round"/><line x1="212.5" y1="1381.2" x2="238.8" y2="1366.0" stroke="#0c0c0c" stroke-width="2.40" stroke-linecap="round"/><line x1="238.8" y1="1366.0" x2="265.0" y2="1360.5" stroke="#0c0c0c" stroke-width="1.99" stroke-linecap="round"/><line x1="265.0" y1="1360.5" x2="290.5" y2="1353.0" stroke="#0c0c0c" stroke-width="2.07" stroke-linecap="round"/><line x1="290.5" y1="1353.0" x2="319.5" y2="1319.5" stroke="#0c0c0c" stroke-width="2.92" stroke-linecap="round"/><line x1="319.5" y1="1319.5" x2="345.5" y2="1285.0" stroke="#0c0c0c" stroke-width="3.02" stroke-linecap="round"/><line x1="345.5" y1="1285.0" x2="370.8" y2="1332.0" stroke="#0c0c0c" stroke-width="3.21" stroke-linecap="round"/><line x1="370.8" y1="1332.0" x2="396.5" y2="1353.0" stroke="#0c0c0c" stroke-width="2.66" stroke-linecap="round"/><line x1="396.5" y1="1353.0" x2="422.7" y2="1337.0" stroke="#0c0c0c" stroke-width="2.44" stroke-linecap="round"/><line x1="422.7" y1="1337.0" x2="451.4" y2="1272.5" stroke="#0c0c0c" stroke-width="3.29" stroke-linecap="round"/><line x1="451.4" y1="1272.5" x2="476.2" y2="1175.0" stroke="#0c0c0c" stroke-width="3.42" stroke-linecap="round"/><polygon points="107.00,1436.40 111.70,1441.00 107.00,1445.60 102.30,1441.00" fill="#fff" stroke="#0c0c0c" stroke-width="3.5" stroke-linejoin="round"/><polygon points="159.00,1423.40 163.70,1428.00 159.00,1432.60 154.30,1428.00" fill="#fff" stroke="#0c0c0c" stroke-width="3.5" stroke-linejoin="round"/><polygon points="187.20,1397.40 191.90,1402.00 187.20,1406.60 182.50,1402.00" fill="#fff" stroke="#0c0c0c" stroke-width="3.5" stroke-linejoin="round"/><polygon points="212.50,1376.60 217.20,1381.20 212.50,1385.80 207.80,1381.20" fill="#fff" stroke="#0c0c0c" stroke-width="3.5" stroke-linejoin="round"/><polygon points="265.00,1355.90 269.70,1360.50 265.00,1365.10 260.30,1360.50" fill="#fff" stroke="#0c0c0c" stroke-width="3.5" stroke-linejoin="round"/><polygon points="290.50,1348.40 295.20,1353.00 290.50,1357.60 285.80,1353.00" fill="#fff" stroke="#0c0c0c" stroke-width="3.5" stroke-linejoin="round"/><polygon points="319.50,1314.90 324.20,1319.50 319.50,1324.10 314.80,1319.50" fill="#fff" stroke="#0c0c0c" stroke-width="3.5" stroke-linejoin="round"/><polygon points="345.50,1280.40 350.20,1285.00 345.50,1289.60 340.80,1285.00" fill="#fff" stroke="#0c0c0c" stroke-width="3.5" stroke-linejoin="round"/><polygon points="370.80,1327.40 375.50,1332.00 370.80,1336.60 366.10,1332.00" fill="#fff" stroke="#0c0c0c" stroke-width="3.5" stroke-linejoin="round"/><polygon points="396.50,1348.40 401.20,1353.00 396.50,1357.60 391.80,1353.00" fill="#fff" stroke="#0c0c0c" stroke-width="3.5" stroke-linejoin="round"/><polygon points="422.70,1332.40 427.40,1337.00 422.70,1341.60 418.00,1337.00" fill="#fff" stroke="#0c0c0c" stroke-width="3.5" stroke-linejoin="round"/><polygon points="451.40,1267.90 456.10,1272.50 451.40,1277.10 446.70,1272.50" fill="#fff" stroke="#0c0c0c" stroke-width="3.5" stroke-linejoin="round"/><polygon points="476.20,1170.40 480.90,1175.00 476.20,1179.60 471.50,1175.00" fill="#fff" stroke="#0c0c0c" stroke-width="3.5" stroke-linejoin="round"/>
<rect x="100.6" y="1451.5" width="13.00" height="20.70" fill="#0c0c0c"/><rect x="105.70" y="1464.70" width="2.6" height="2.6" fill="#fff"/>
<polygon points="133.00,1439.50 137.00,1443.50 133.00,1447.50 129.00,1443.50" fill="#0c0c0c" stroke="#0c0c0c" stroke-width="4.8" stroke-linejoin="round"/><rect x="126.6" y="1445.5" width="12.80" height="23.80" fill="#0c0c0c"/><rect x="131.70" y="1461.20" width="2.6" height="2.6" fill="#fff"/><rect x="132.00" y="1454.50" width="2" height="2" fill="#fff"/>
<rect x="232.4" y="1359.8" width="12.80" height="21.20" fill="#0c0c0c"/><rect x="237.30" y="1364.50" width="3" height="3" fill="#fff"/><rect x="237.50" y="1373.20" width="2.6" height="2.6" fill="#fff"/>
<rect x="347" y="202.5" width="99" height="27.0" fill="#fff"/>
<rect x="347" y="487.3" width="110" height="26.900000000000034" fill="#fff"/>
<rect x="409" y="926" width="100" height="26.5" fill="#fff"/>
<rect x="372.3" y="1181.6" width="121.69999999999999" height="27.40000000000009" fill="#fff"/>
<text transform="translate(0.28,23.32) scale(1.0587,1)" font-size="32.06" font-family="Liberation Sans, Arial, Helvetica, sans-serif" stroke="#111" stroke-width="0.25" font-weight="bold" fill="#0c0c0c">A</text>
<text transform="translate(-1.51,840.00) scale(0.9746,1)" font-size="32.46" font-family="Liberation Sans, Arial, Helvetica, sans-serif" stroke="#111" stroke-width="0.25" font-weight="bold" fill="#0c0c0c">B</text>
<text transform="translate(39.46,54.61) scale(1.0687,1)" font-size="29.01" font-family="Liberation Sans, Arial, Helvetica, sans-serif" stroke="#111" stroke-width="0.5" fill="#0c0c0c">500</text>
<text transform="translate(39.89,184.81) scale(1.0511,1)" font-size="29.01" font-family="Liberation Sans, Arial, Helvetica, sans-serif" stroke="#111" stroke-width="0.5" fill="#0c0c0c">400</text>
<text transform="translate(38.34,315.31) scale(1.0838,1)" font-size="29.01" font-family="Liberation Sans, Arial, Helvetica, sans-serif" stroke="#111" stroke-width="0.5" fill="#0c0c0c">300</text>
<text transform="translate(38.04,445.31) scale(1.0776,1)" font-size="29.01" font-family="Liberation Sans, Arial, Helvetica, sans-serif" stroke="#111" stroke-width="0.5" fill="#0c0c0c">200</text>
<text transform="translate(38.82,573.31) scale(1.0696,1)" font-size="29.01" font-family="Liberation Sans, Arial, Helvetica, sans-serif" stroke="#111" stroke-width="0.5" fill="#0c0c0c">100</text>
<text transform="translate(71.79,701.11) scale(1.0412,1)" font-size="29.01" font-family="Liberation Sans, Arial, Helvetica, sans-serif" stroke="#111" stroke-width="0.5" fill="#0c0c0c">0</text>
<text transform="translate(37.75,872.71) scale(1.0879,1)" font-size="28.73" font-family="Liberation Sans, Arial, Helvetica, sans-serif" stroke="#111" stroke-width="0.5" fill="#0c0c0c">500</text>
<text transform="translate(38.38,997.41) scale(1.0722,1)" font-size="28.73" font-family="Liberation Sans, Arial, Helvetica, sans-serif" stroke="#111" stroke-width="0.5" fill="#0c0c0c">400</text>
<text transform="translate(37.04,1122.71) scale(1.0967,1)" font-size="28.73" font-family="Liberation Sans, Arial, Helvetica, sans-serif" stroke="#111" stroke-width="0.5" fill="#0c0c0c">300</text>
<text transform="translate(36.42,1246.41) scale(1.1014,1)" font-size="28.73" font-family="Liberation Sans, Arial, Helvetica, sans-serif" stroke="#111" stroke-width="0.5" fill="#0c0c0c">200</text>
<text transform="translate(37.11,1371.31) scale(1.0823,1)" font-size="28.73" font-family="Liberation Sans, Arial, Helvetica, sans-serif" stroke="#111" stroke-width="0.5" fill="#0c0c0c">100</text>
<text transform="translate(70.46,1498.21) scale(1.0647,1)" font-size="29.15" font-family="Liberation Sans, Arial, Helvetica, sans-serif" stroke="#111" stroke-width="0.5" fill="#0c0c0c">0</text>
<text transform="translate(99.82,737.40) scale(1.0002,1)" font-size="29.58" font-family="Liberation Sans, Arial, Helvetica, sans-serif" stroke="#111" stroke-width="0.5" fill="#0c0c0c">0</text>
<text transform="translate(164.35,737.40) scale(0.9574,1)" font-size="30.00" font-family="Liberation Sans, Arial, Helvetica, sans-serif" stroke="#111" stroke-width="0.5" fill="#0c0c0c">5</text>
<text transform="translate(220.08,737.40) scale(1.0245,1)" font-size="29.58" font-family="Liberation Sans, Arial, Helvetica, sans-serif" stroke="#111" stroke-width="0.5" fill="#0c0c0c">10</text>
<text transform="translate(282.58,737.40) scale(1.0101,1)" font-size="30.00" font-family="Liberation Sans, Arial, Helvetica, sans-serif" stroke="#111" stroke-width="0.5" fill="#0c0c0c">15</text>
<text transform="translate(344.67,737.40) scale(1.1005,1)" font-size="29.58" font-family="Liberation Sans, Arial, Helvetica, sans-serif" stroke="#111" stroke-width="0.5" fill="#0c0c0c">20</text>
<text transform="translate(408.58,737.40) scale(1.0972,1)" font-size="29.58" font-family="Liberation Sans, Arial, Helvetica, sans-serif" stroke="#111" stroke-width="0.5" fill="#0c0c0c">25</text>
<text transform="translate(473.51,737.40) scale(1.0865,1)" font-size="29.58" font-family="Liberation Sans, Arial, Helvetica, sans-serif" stroke="#111" stroke-width="0.5" fill="#0c0c0c">30</text>
<text transform="translate(98.28,1534.50) scale(1.0354,1)" font-size="29.58" font-family="Liberation Sans, Arial, Helvetica, sans-serif" stroke="#111" stroke-width="0.5" fill="#0c0c0c">0</text>
<text transform="translate(164.83,1534.50) scale(0.9787,1)" font-size="30.00" font-family="Liberation Sans, Arial, Helvetica, sans-serif" stroke="#111" stroke-width="0.5" fill="#0c0c0c">5</text>
<text transform="translate(221.58,1534.50) scale(1.0245,1)" font-size="29.58" font-family="Liberation Sans, Arial, Helvetica, sans-serif" stroke="#111" stroke-width="0.5" fill="#0c0c0c">10</text>
<text transform="translate(284.95,1534.50) scale(1.0606,1)" font-size="30.00" font-family="Liberation Sans, Arial, Helvetica, sans-serif" stroke="#111" stroke-width="0.5" fill="#0c0c0c">15</text>
<text transform="translate(351.79,1534.50) scale(1.0905,1)" font-size="29.58" font-family="Liberation Sans, Arial, Helvetica, sans-serif" stroke="#111" stroke-width="0.5" fill="#0c0c0c">20</text>
<text transform="translate(419.01,1534.50) scale(1.0739,1)" font-size="29.58" font-family="Liberation Sans, Arial, Helvetica, sans-serif" stroke="#111" stroke-width="0.5" fill="#0c0c0c">25</text>
<text transform="translate(482.02,1534.50) scale(1.0832,1)" font-size="29.58" font-family="Liberation Sans, Arial, Helvetica, sans-serif" stroke="#111" stroke-width="0.5" fill="#0c0c0c">30</text>
<text x="350.22" y="221.70" font-size="21.92" letter-spacing="2.50" font-family="Liberation Sans, Arial, Helvetica, sans-serif" stroke="#111" stroke-width="0.25" font-weight="bold" fill="#0c0c0c">Control</text>
<text x="348.08" y="506.50" font-size="23.15" letter-spacing="0.99" font-family="Liberation Sans, Arial, Helvetica, sans-serif" stroke="#111" stroke-width="0.25" font-weight="bold" fill="#0c0c0c">Deprived</text>
<text x="412.52" y="944.00" font-size="21.92" letter-spacing="2.32" font-family="Liberation Sans, Arial, Helvetica, sans-serif" stroke="#111" stroke-width="0.25" font-weight="bold" fill="#0c0c0c">Control</text>
<text x="377.89" y="1200.00" font-size="23.01" letter-spacing="2.03" font-family="Liberation Sans, Arial, Helvetica, sans-serif" stroke="#111" stroke-width="0.25" font-weight="bold" fill="#0c0c0c">Deprived</text>
<text transform="translate(0,775) scale(1.128,1)" font-size="28.8" font-family="Liberation Sans, Arial, Helvetica, sans-serif" font-weight="bold" fill="#0c0c0c" stroke="#0c0c0c" stroke-width="0.25"><tspan x="144.26">Days</tspan> <tspan x="229.34">of</tspan> <tspan x="272.81">incubation</tspan></text>
<text transform="translate(0,1587.5) scale(1.138,1)" font-size="28.8" font-family="Liberation Sans, Arial, Helvetica, sans-serif" font-weight="bold" fill="#0c0c0c" stroke="#0c0c0c" stroke-width="0.25"><tspan x="139.46">Days</tspan> <tspan x="220.73">of</tspan> <tspan x="262.48">incubation</tspan></text>
<text transform="translate(24.55,0) rotate(-90) scale(1.025,1)" font-size="31.91" font-family="Liberation Sans, Arial, Helvetica, sans-serif" font-weight="bold" fill="#0c0c0c" stroke="#0c0c0c" stroke-width="0.25"><tspan x="-530.35" y="0">Cell</tspan> <tspan x="-462.62" y="0">number</tspan> <tspan x="-336.23" y="0">(1</tspan> <tspan x="-299.87" y="4.2" font-size="38.5" font-weight="normal" stroke-width="0.5">×</tspan> <tspan x="-269.82" y="0">10e6)</tspan></text>
<text transform="translate(24.55,0) rotate(-90) scale(1.025,1)" font-size="31.91" font-family="Liberation Sans, Arial, Helvetica, sans-serif" font-weight="bold" fill="#0c0c0c" stroke="#0c0c0c" stroke-width="0.25"><tspan x="-1316.15" y="0">Cell</tspan> <tspan x="-1248.43" y="0">number</tspan> <tspan x="-1122.03" y="0">(1</tspan> <tspan x="-1085.67" y="4.2" font-size="38.5" font-weight="normal" stroke-width="0.5">×</tspan> <tspan x="-1055.62" y="0">10e6)</tspan></text>
</svg></body></html>
